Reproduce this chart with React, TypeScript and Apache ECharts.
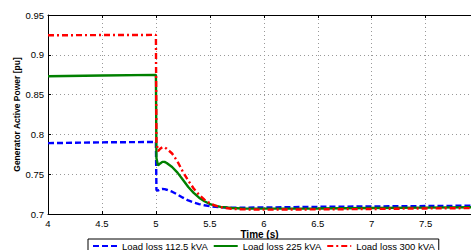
import React, { useEffect, useRef } from "react";
import * as echarts from "echarts";

const times = [4, 4.5, 5.0, 5.005, 5.02, 5.04, 5.06, 5.08, 5.1, 5.15, 5.2, 5.25, 5.3, 5.35, 5.4, 5.45, 5.5, 5.55, 5.6, 5.7, 5.8, 6.0, 6.5, 7.0, 7.5, 8.0];
const blue = [0.789, 0.790, 0.7905, 0.730, 0.7295, 0.731, 0.7315, 0.7312, 0.7305, 0.728, 0.7245, 0.7205, 0.717, 0.7145, 0.7125, 0.711, 0.7098, 0.709, 0.7085, 0.708, 0.708, 0.7082, 0.709, 0.7095, 0.710, 0.7105];
const green = [0.873, 0.874, 0.8748, 0.77, 0.761, 0.7635, 0.7655, 0.7655, 0.764, 0.759, 0.752, 0.743, 0.734, 0.7265, 0.7205, 0.716, 0.7125, 0.7105, 0.709, 0.7075, 0.707, 0.7068, 0.707, 0.7075, 0.708, 0.7085];
const red = [0.9245, 0.9248, 0.925, 0.79, 0.779, 0.782, 0.784, 0.7838, 0.782, 0.776, 0.766, 0.753, 0.742, 0.732, 0.724, 0.718, 0.7135, 0.7105, 0.7085, 0.7065, 0.7058, 0.7055, 0.7058, 0.7063, 0.707, 0.7075];
const seriesNames = ["Load loss 112,5 kVA", "Load loss 225 kVA", "Load loss 300 kVA"];

const FONT = "Liberation Sans, Arial, sans-serif";
const X_MAX = 7.92;

export default function App() {
  const ref = useRef<HTMLDivElement>(null);
  useEffect(() => {
    document.body.style.margin = "0";
    const chart = echarts.init(ref.current!, null, { renderer: "svg" });
    const pairs = (vals: number[]) => times.map((t, i) => [t, vals[i]]);
    const common = { type: "line", showSymbol: false, symbol: "none", smooth: false, clip: true };
    const splitLine = { show: true, lineStyle: { color: "#999", type: [1, 3], width: 1 } };
    chart.setOption({
      animation: false,
      grid: { left: 48, right: 0, top: 15, bottom: 36, show: false },
      xAxis: [
        {
          type: "value", min: 4, max: X_MAX, interval: 0.5,
          name: "Time (s)", nameLocation: "middle", nameGap: 15, nameMoveOverlap: false,
          nameTextStyle: { fontFamily: FONT, fontSize: 10, fontWeight: "bold", color: "#000" },
          axisLine: { onZero: false, lineStyle: { color: "#000" } },
          axisTick: { inside: true, length: 3, lineStyle: { color: "#000" } },
          axisLabel: { fontFamily: FONT, fontSize: 9.5, color: "#000", margin: 4, showMaxLabel: false },
          splitLine,
        },
        {
          type: "value", min: 4, max: X_MAX, interval: 0.5, position: "top",
          axisLine: { show: true, lineStyle: { color: "#000" } },
          axisTick: { inside: true, length: 3, lineStyle: { color: "#000" } },
          axisLabel: { show: false },
          splitLine: { show: false },
        },
      ],
      yAxis: {
        type: "value", min: 0.7, max: 0.95, interval: 0.05,
        name: "Generator Active Power [pu]", nameLocation: "middle", nameGap: 27, nameMoveOverlap: false,
        nameTextStyle: { fontFamily: FONT, fontSize: 8.5, fontWeight: "bold", color: "#000" },
        axisLine: { show: true, lineStyle: { color: "#000" } },
        axisTick: { inside: true, length: 3, lineStyle: { color: "#000" } },
        axisLabel: { fontFamily: FONT, fontSize: 9.5, color: "#000", margin: 4 },
        splitLine,
      },
      legend: {
        left: 88, top: 239,
        padding: [2, 4, 3, 4],
        itemGap: 5, itemWidth: 24, itemHeight: 8,
        borderColor: "#000", borderWidth: 1,
        backgroundColor: "#fff",
        itemStyle: { opacity: 0 },
        textStyle: { fontFamily: FONT, fontSize: 9.5, color: "#000" },
        data: seriesNames,
      },
      series: [
        { ...common, name: seriesNames[0], data: pairs(blue), color: "#0000ff", lineStyle: { color: "#0000ff", width: 2.4, type: [6, 3] } },
        { ...common, name: seriesNames[1], data: pairs(green), color: "#008000", lineStyle: { color: "#008000", width: 2.4, type: "solid" } },
        { ...common, name: seriesNames[2], data: pairs(red), color: "#ff0000", lineStyle: { color: "#ff0000", width: 2.4, type: [6, 3, 2, 3] } },
      ],
    });
    return () => chart.dispose();
  }, []);
  return <div ref={ref} style={{ width: 471, height: 250, position: "absolute", left: 0, top: 0 }} />;
}
